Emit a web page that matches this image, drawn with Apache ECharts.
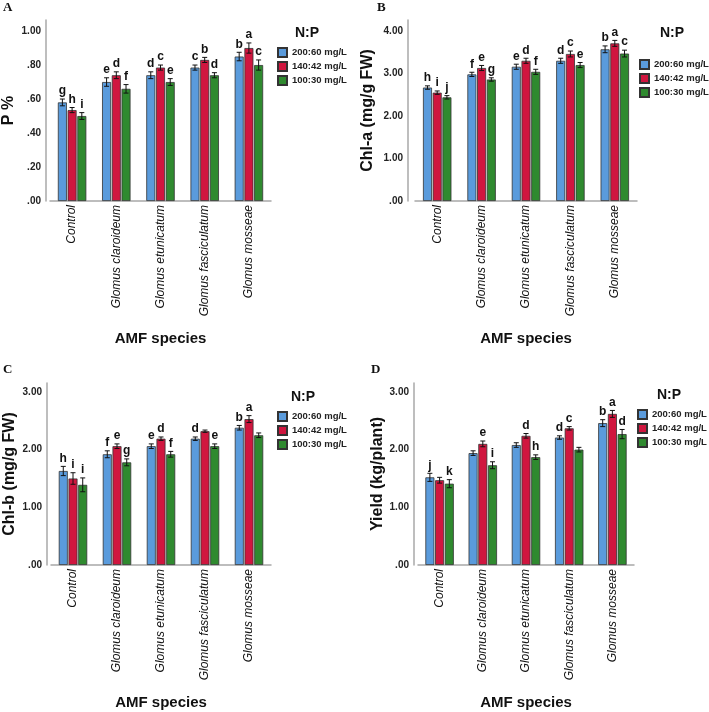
<!DOCTYPE html>
<html>
<head>
<meta charset="UTF-8">
<title>AMF species</title>
<script src="https://cdn.jsdelivr.net/npm/echarts@6/dist/echarts.min.js"></script>
<style>
  html, body { margin: 0; padding: 0; background: #fff; }
  #main { width: 709px; height: 712px; }
</style>
</head>
<body>
<div id="main"></div>
<script>
// categories and N:P levels
var categories = ['Control', 'Glomus claroideum', 'Glomus etunicatum', 'Glomus fasciculatum', 'Glomus mosseae'];
var levels = ['200:60 mg/L', '140:42 mg/L', '100:30 mg/L'];

// A: P %   (rows = levels, cols = categories)
var pMean = [[0.58, 0.70, 0.74, 0.785, 0.85], [0.535, 0.74, 0.785, 0.83, 0.90], [0.50, 0.66, 0.70, 0.74, 0.80]];
var pErr = [[0.02, 0.025, 0.02, 0.015, 0.025], [0.015, 0.02, 0.015, 0.015, 0.03], [0.02, 0.025, 0.02, 0.015, 0.03]];
var pLetters = [['g', 'e', 'd', 'c', 'b'], ['h', 'd', 'c', 'b', 'a'], ['i', 'f', 'e', 'd', 'c']];

// B: Chl-a
var chlaMean = [[2.67, 2.98, 3.16, 3.30, 3.57], [2.55, 3.13, 3.30, 3.46, 3.71], [2.44, 2.86, 3.04, 3.20, 3.47]];
var chlaErr = [[0.04, 0.05, 0.06, 0.06, 0.08], [0.04, 0.06, 0.06, 0.07, 0.07], [0.04, 0.04, 0.06, 0.06, 0.08]];
var chlaLetters = [['h', 'f', 'e', 'd', 'b'], ['i', 'e', 'd', 'c', 'a'], ['j', 'g', 'f', 'e', 'c']];

// C: Chl-b
var chlbMean = [[1.63, 1.92, 2.06, 2.19, 2.38], [1.50, 2.06, 2.19, 2.32, 2.53], [1.39, 1.78, 1.92, 2.06, 2.25]];
var chlbErr = [[0.08, 0.06, 0.04, 0.03, 0.04], [0.10, 0.04, 0.03, 0.02, 0.06], [0.12, 0.06, 0.05, 0.04, 0.04]];
var chlbLetters = [['h', 'f', 'e', 'd', 'b'], ['i', 'e', 'd', '', 'a'], ['i', 'g', 'f', 'e', '']];

// D: Yield
var yieldMean = [[1.52, 1.94, 2.08, 2.21, 2.46], [1.47, 2.10, 2.24, 2.37, 2.62], [1.41, 1.73, 1.87, 2.00, 2.27]];
var yieldErr = [[0.07, 0.04, 0.04, 0.03, 0.06], [0.05, 0.05, 0.04, 0.03, 0.06], [0.07, 0.06, 0.04, 0.04, 0.08]];
var yieldLetters = [['j', '', '', 'd', 'b'], ['', 'e', 'd', 'c', 'a'], ['k', 'i', 'h', '', 'd']];

var colors = ['#5a9bdc', '#d0163f', '#2f8a2f'];
var BAR_W = 9, BAR_GAP = 0.08;
var axisGray = '#a8a8a8';
var fontSans = '"Liberation Sans", Arial, sans-serif';

var panels = [
  { letter: 'A', name: 'P %', mean: pMean, err: pErr, letters: pLetters, max: 1.065, interval: 0.2,
    grid: { left: 49, top: 20, width: 222, height: 181 }, yOffset: 4, nameGap: 29,
    lt: [3, 1], np: [307, 26], lg: [277, 47] },
  { letter: 'B', name: 'Chl-a (mg/g FW)', mean: chlaMean, err: chlaErr, letters: chlaLetters, max: 4.26, interval: 1,
    grid: { left: 415, top: 20, width: 222, height: 181 }, yOffset: 7, nameGap: 32,
    lt: [377, 1], np: [672, 26], lg: [639, 59] },
  { letter: 'C', name: 'Chl-b (mg/g FW)', mean: chlbMean, err: chlbErr, letters: chlbLetters, max: 3.156, interval: 1,
    grid: { left: 51, top: 383, width: 220, height: 182 }, yOffset: 4, nameGap: 29,
    lt: [3, 363], np: [303, 390], lg: [277, 411] },
  { letter: 'D', name: 'Yield (kg/plant)', mean: yieldMean, err: yieldErr, letters: yieldLetters, max: 3.156, interval: 1,
    grid: { left: 418, top: 383, width: 216, height: 182 }, yOffset: 4, nameGap: 24,
    lt: [371, 363], np: [669, 388], lg: [637, 409] }
];

function fmt(v) {
  return v.toFixed(2).replace(/^0/, '');
}

var option = {
  backgroundColor: '#fff',
  animation: false,
  title: [], grid: [], xAxis: [], yAxis: [], legend: [], series: []
};

panels.forEach(function (p, k) {
  option.title.push({ text: p.letter, left: p.lt[0], top: p.lt[1], padding: 0,
    textStyle: { fontFamily: '"Liberation Serif", "Times New Roman", serif', fontWeight: 'bold', fontSize: 13, color: '#111' } });
  option.title.push({ text: 'N:P', left: p.np[0], top: p.np[1], padding: 0, textAlign: 'center',
    textStyle: { fontFamily: fontSans, fontWeight: 'bold', fontSize: 14, color: '#111' } });
  option.grid.push(p.grid);
  option.xAxis.push({
    type: 'category', gridIndex: k, data: categories,
    axisLine: { lineStyle: { color: axisGray, width: 1.5 } },
    axisTick: { show: false },
    axisLabel: { rotate: 90, margin: 4, fontFamily: fontSans, fontStyle: 'italic', fontSize: 12, color: '#111', interval: 0 },
    name: 'AMF species', nameLocation: 'middle', nameGap: 130,
    nameTextStyle: { fontFamily: fontSans, fontWeight: 'bold', fontSize: 15, color: '#111' }
  });
  option.yAxis.push({
    type: 'value', gridIndex: k, min: 0, max: p.max, interval: p.interval, offset: p.yOffset,
    axisLine: { show: true, lineStyle: { color: axisGray, width: 1.5 } },
    axisTick: { show: false },
    splitLine: { show: false },
    axisLabel: { showMaxLabel: false, margin: 5, fontFamily: fontSans, fontWeight: 'bold', fontSize: 10, color: '#222', formatter: fmt },
    name: p.name, nameLocation: 'middle', nameGap: p.nameGap, nameRotate: 90,
    nameTextStyle: { fontFamily: fontSans, fontWeight: 'bold', fontSize: 16, color: '#111' }
  });
  option.legend.push({
    data: levels, orient: 'vertical', left: p.lg[0], top: p.lg[1], padding: 0,
    itemWidth: 9, itemHeight: 9, itemGap: 3, icon: 'rect', selectedMode: false,
    textStyle: { fontFamily: fontSans, fontWeight: 'bold', fontSize: 9.5, color: '#222' }
  });
  levels.forEach(function (lv, s) {
    option.series.push({
      name: lv, type: 'bar', xAxisIndex: k, yAxisIndex: k,
      barWidth: BAR_W, barGap: (BAR_GAP * 100) + '%',
      data: p.mean[s],
      itemStyle: { color: colors[s], borderColor: '#333', borderWidth: 0.8 }
    });
  });
  levels.forEach(function (lv, s) {
    var off = (s - 1) * BAR_W * (1 + BAR_GAP);
    var letters = p.letters[s];
    option.series.push({
      name: 'err' + k + s, type: 'custom', xAxisIndex: k, yAxisIndex: k, z: 5,
      data: p.mean[s].map(function (v, i) { return [i, v, p.err[s][i]]; }),
      renderItem: function (params, api) {
        var i = api.value(0), v = api.value(1), e = api.value(2);
        var x = api.coord([i, v])[0] + off;
        var yt = api.coord([i, v + e])[1];
        var yb = api.coord([i, v - e])[1];
        var st = { stroke: '#111', lineWidth: 1 };
        return {
          type: 'group',
          children: [
            { type: 'line', shape: { x1: x, y1: yt, x2: x, y2: yb }, style: st },
            { type: 'line', shape: { x1: x - 2.5, y1: yt, x2: x + 2.5, y2: yt }, style: st },
            { type: 'line', shape: { x1: x - 2.5, y1: yb, x2: x + 2.5, y2: yb }, style: st },
            { type: 'text', x: x, y: yt - 2,
              style: { text: letters[params.dataIndex], textAlign: 'center', textVerticalAlign: 'bottom',
                font: 'bold 12px ' + fontSans, fill: '#111' } }
          ]
        };
      }
    });
  });
});

var chart = echarts.init(document.getElementById('main'), null, { renderer: 'canvas' });
chart.setOption(option);
</script>
</body>
</html>
